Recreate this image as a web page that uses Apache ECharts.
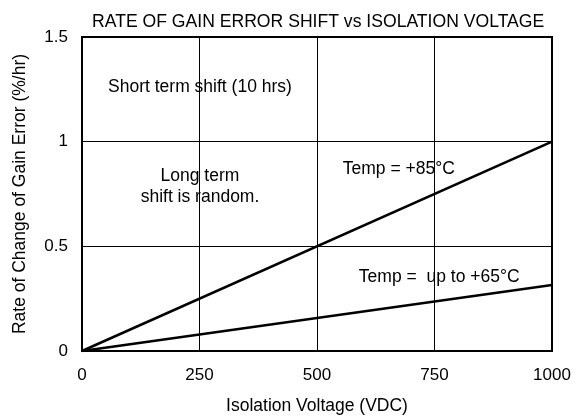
<!DOCTYPE html>
<html>
<head>
<meta charset="utf-8">
<script src="https://cdn.jsdelivr.net/npm/echarts@6/dist/echarts.min.js"></script>
<style>html,body{margin:0;padding:0;background:#fff;}#c{width:578px;height:420px;}</style>
</head>
<body>
<div id="c"></div>
<script>
var titleText = 'RATE OF GAIN ERROR SHIFT vs ISOLATION VOLTAGE';
var xName = 'Isolation Voltage (VDC)';
var yName = 'Rate of Change of Gain Error (%/hr)';
var voltage = [0, 1000];
var temp85 = [0, 1.0];
var temp65 = [0, 0.315];
var noteText = ['Short term shift (10 hrs)', 'Long term\nshift is random.', 'Temp = +85°C', 'Temp =  up to +65°C'];
var noteX = [251, 251, 674, 760];
var noteY = [1.26, 0.785, 0.868, 0.354];

var font = "'Liberation Sans', Arial, sans-serif";
var chart = echarts.init(document.getElementById('c'), null, {renderer: 'canvas'});
function pairs(xs, ys) { return xs.map(function (x, i) { return [x, ys[i]]; }); }
chart.setOption({
  animation: false,
  backgroundColor: '#fff',
  title: {
    text: titleText, left: 87, top: 8,
    textStyle: {fontFamily: font, fontSize: 17.6, fontWeight: 'normal', color: '#000'}
  },
  grid: {left: 82, right: 26, top: 37, bottom: 65, show: true, borderColor: '#000', borderWidth: 2, backgroundColor: 'transparent'},
  xAxis: {
    type: 'value', min: 0, max: 1000, interval: 250,
    name: xName, nameLocation: 'middle', nameGap: 46,
    nameTextStyle: {fontFamily: font, fontSize: 17.5, color: '#000'},
    axisLine: {show: true, lineStyle: {color: '#000', width: 2}},
    axisTick: {show: false},
    axisLabel: {fontFamily: font, fontSize: 17, color: '#000', margin: 16, formatter: function (v) { return String(v); }},
    splitLine: {show: true, lineStyle: {color: '#000', width: 1}}
  },
  yAxis: {
    type: 'value', min: 0, max: 1.5, interval: 0.5,
    name: yName, nameLocation: 'middle', nameGap: 53,
    nameTextStyle: {fontFamily: font, fontSize: 17.5, color: '#000'},
    axisLine: {show: true, lineStyle: {color: '#000', width: 2}},
    axisTick: {show: false},
    axisLabel: {fontFamily: font, fontSize: 17, color: '#000', margin: 14},
    splitLine: {show: true, lineStyle: {color: '#000', width: 1}}
  },
  series: [
    {type: 'line', data: pairs(voltage, temp85), symbol: 'none', lineStyle: {color: '#000', width: 2.5}, z: 3},
    {type: 'line', data: pairs(voltage, temp65), symbol: 'none', lineStyle: {color: '#000', width: 2.5}, z: 3},
    {
      type: 'scatter', symbolSize: 0, silent: true,
      itemStyle: {color: '#000', opacity: 1},
      data: noteX.map(function (x, i) { return {value: [x, noteY[i]], label: {formatter: noteText[i]}}; }),
      label: {show: true, position: [0, 0], fontFamily: font, fontSize: 17.5, color: '#000', textBorderWidth: 0, lineHeight: 21, align: 'center', verticalAlign: 'middle'}
    }
  ]
});
</script>
</body>
</html>
